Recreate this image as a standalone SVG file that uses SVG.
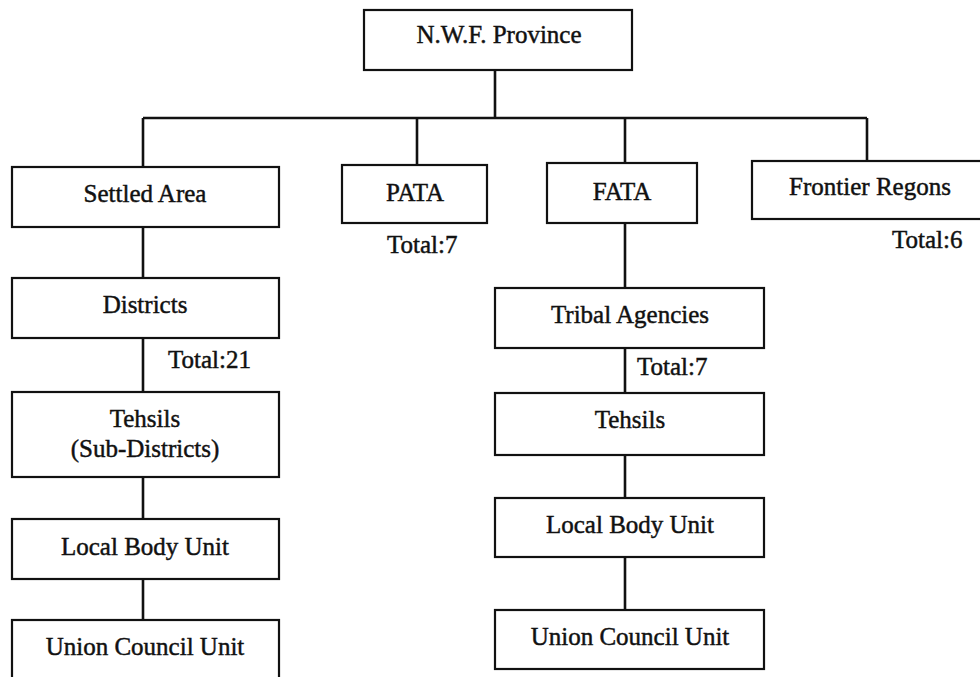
<svg xmlns="http://www.w3.org/2000/svg" width="980" height="677" viewBox="0 0 980 677">
<style>
.box{fill:#fff;stroke:#111;stroke-width:2.2}
.ln{stroke:#111;stroke-width:2.6;fill:none}
text{font-family:"Liberation Serif","Times New Roman",serif;font-size:25px;fill:#111;stroke:#111;stroke-width:0.45}
.c{text-anchor:middle}
</style>
<rect width="980" height="677" fill="#fff"/>
<g id="connectors">
<path class="ln" d="M495,70V118M143,118H867M143,118V167M417,118V165M625,118V163M867,118V161"/>
<path class="ln" d="M143,227V278M143,338V392M143,477V519M143,579V620"/>
<path class="ln" d="M625,223V288M625,348V393M625,455V498M625,557V610"/>
</g>
<g id="nwfp"><rect class="box" x="364" y="10" width="268" height="60"/><text class="c" x="499" y="43">N.W.F. Province</text></g>
<g id="settled"><rect class="box" x="12" y="167" width="267" height="60"/><text class="c" x="145" y="202">Settled Area</text></g>
<g id="pata"><rect class="box" x="342" y="165" width="145" height="58"/><text class="c" x="415" y="201">PATA</text><text x="387" y="253">Total:7</text></g>
<g id="fata"><rect class="box" x="547" y="163" width="150" height="60"/><text class="c" x="622" y="200">FATA</text></g>
<g id="frontier"><rect class="box" x="752" y="161" width="240" height="58"/><text class="c" x="870" y="195">Frontier Regons</text><text x="892" y="248">Total:6</text></g>
<g id="districts"><rect class="box" x="12" y="278" width="267" height="60"/><text class="c" x="145" y="313">Districts</text><text x="168" y="368">Total:21</text></g>
<g id="tehsils-left"><rect class="box" x="12" y="392" width="267" height="85"/><text class="c" x="145" y="427">Tehsils</text><text class="c" x="145" y="457">(Sub-Districts)</text></g>
<g id="local-left"><rect class="box" x="12" y="519" width="267" height="60"/><text class="c" x="145" y="555">Local Body Unit</text></g>
<g id="union-left"><rect class="box" x="12" y="620" width="267" height="70"/><text class="c" x="145" y="655">Union Council Unit</text></g>
<g id="tribal"><rect class="box" x="495" y="288" width="269" height="60"/><text class="c" x="630" y="323">Tribal Agencies</text><text x="637" y="375">Total:7</text></g>
<g id="tehsils-right"><rect class="box" x="495" y="393" width="269" height="62"/><text class="c" x="630" y="428">Tehsils</text></g>
<g id="local-right"><rect class="box" x="495" y="498" width="269" height="59"/><text class="c" x="630" y="533">Local Body Unit</text></g>
<g id="union-right"><rect class="box" x="495" y="610" width="269" height="59"/><text class="c" x="630" y="645">Union Council Unit</text></g>
</svg>
